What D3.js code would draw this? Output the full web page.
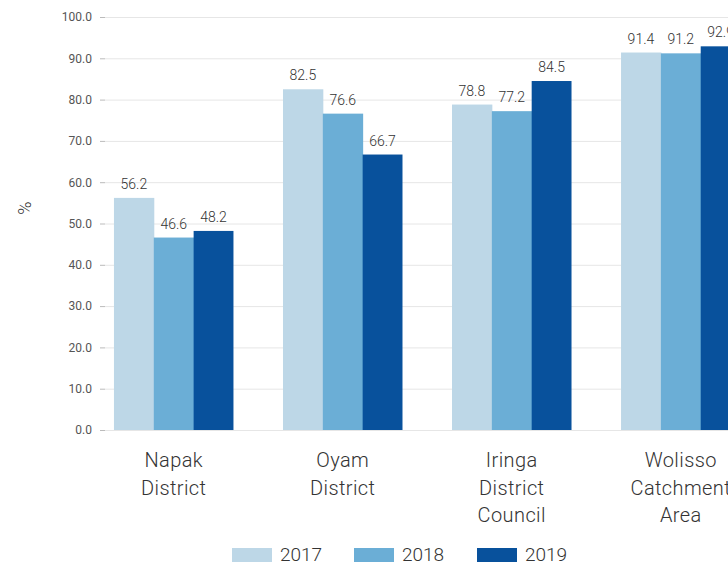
<!DOCTYPE html>
<html><head><meta charset="utf-8">
<script src="https://cdn.jsdelivr.net/npm/d3@7"></script>
<style>body{margin:0;background:#fff}svg{display:block}text{font-family:Roboto,"DejaVu Sans",sans-serif;font-weight:300}</style>
</head><body><svg id="c" width="728" height="565"></svg>
<script>
const categories = [["Napak","District"],["Oyam","District"],["Iringa","District","Council"],["Wolisso","Catchment","Area"]];
const years = ["2017","2018","2019"];
const v2017 = [56.2, 82.5, 78.8, 91.4];
const v2018 = [46.6, 76.6, 77.2, 91.2];
const v2019 = [48.2, 66.7, 84.5, 92.9];
const yTicks = [0,10,20,30,40,50,60,70,80,90,100];
const colors = ["#bdd7e7","#6baed6","#08519c"];

const series = [v2017, v2018, v2019];
const svg = d3.select("#c");
const x0 = 105, yTop = 17, yBot = 430;
const y = d3.scaleLinear().domain([0,100]).range([yBot, yTop]);
const x = d3.scaleBand().domain(d3.range(categories.length)).range([x0, 749.5]).paddingInner(0.293).paddingOuter(0.053);
const xs = d3.scaleBand().domain(d3.range(years.length)).range([0, x.bandwidth()]);

// grid
svg.append("g").selectAll("line").data(yTicks).join("line")
  .attr("x1", x0).attr("x2", 728).attr("y1", d=>y(d)+0.5).attr("y2", d=>y(d)+0.5)
  .attr("stroke", "#e6e6e6").attr("stroke-width",1);

// y axis
const ya = svg.append("g").attr("transform", `translate(${x0},0)`)
  .call(d3.axisLeft(y).tickValues(yTicks).tickSize(5).tickPadding(8).tickFormat(d3.format(".1f")));
ya.select(".domain").remove();
ya.selectAll(".tick line").attr("stroke","#bbb");
ya.selectAll(".tick text").attr("fill","#555").style("font-size","12px").style("font-weight","400");

// y title
svg.append("text").attr("transform","translate(31,208) rotate(-90)").attr("text-anchor","middle")
  .attr("fill","#333").style("font-size","18px").text("%");

// bars
categories.forEach((c,i)=>{
  const g = svg.append("g").attr("transform",`translate(${x(i)},0)`);
  series.forEach((s,j)=>{
    g.append("rect").attr("x", xs(j)).attr("width", xs.bandwidth()+ (j<2?0.5:0))
      .attr("y", y(s[i])).attr("height", yBot - y(s[i])).attr("fill", colors[j]);
    g.append("text").attr("x", xs(j)+xs.bandwidth()/2).attr("y", y(s[i])-9)
      .attr("text-anchor","middle").attr("fill","#333").style("font-size","14px")
      .text(s[i].toFixed(1));
  });
  const t = svg.append("text").attr("text-anchor","middle").attr("fill","#333")
    .style("font-size","20px").style("letter-spacing","0.4px");
  c.forEach((line,k)=>{
    t.append("tspan").attr("x", x(i)+x.bandwidth()/2).attr("y", 467 + k*27.5).text(line);
  });
});

// legend
const lx = [232, 354, 477];
years.forEach((yr,j)=>{
  svg.append("rect").attr("x", lx[j]).attr("y", 548).attr("width", 40).attr("height", 14).attr("fill", colors[j]);
  svg.append("text").attr("x", lx[j]+48).attr("y", 561).attr("fill","#333").style("font-size","19px").text(yr);
});
</script></body></html>
